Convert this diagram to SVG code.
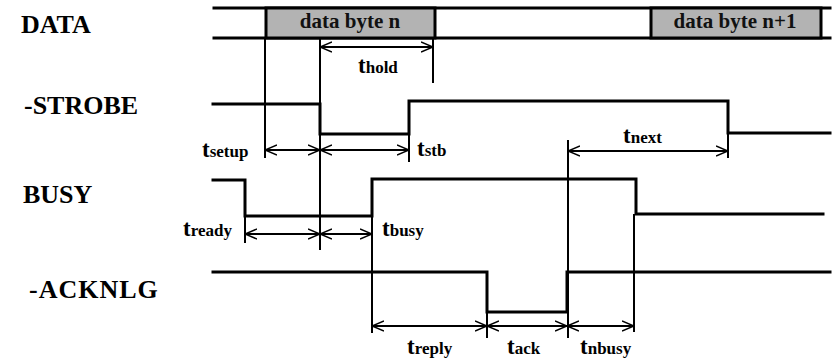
<svg xmlns="http://www.w3.org/2000/svg" width="834" height="359" viewBox="0 0 834 359">
<defs>
<style>
.sig{fill:none;stroke:#000;stroke-width:3;stroke-linejoin:miter;stroke-linecap:square}
.ref{fill:none;stroke:#000;stroke-width:2}
.arr{fill:none;stroke:#000;stroke-width:1.8;marker-start:url(#ah);marker-end:url(#ah)}
.box{fill:#b3b3b3;stroke:#000;stroke-width:3}
.lbl{font-family:"Liberation Serif","Times New Roman",serif;font-weight:bold;font-size:26px;fill:#000}
.dt{font-family:"Liberation Serif","Times New Roman",serif;font-weight:bold;font-size:21px;fill:#111;text-anchor:middle}
.t{font-family:"Liberation Serif","Times New Roman",serif;font-weight:bold;font-size:23px;fill:#000}
.s{font-size:17px}
</style>
<marker id="ah" viewBox="0 0 12 12" refX="12" refY="6" markerUnits="userSpaceOnUse" markerWidth="12" markerHeight="12" orient="auto-start-reverse">
<path d="M0,1 L12,6 L0,11" fill="none" stroke="#000" stroke-width="1.5"/>
</marker>
</defs>
<rect width="834" height="359" fill="#fff"/>

<g id="labels">
<text class="lbl" x="21" y="33">DATA</text>
<text class="lbl" x="24" y="114">-STROBE</text>
<text class="lbl" x="23" y="203">BUSY</text>
<text class="lbl" x="29" y="298" letter-spacing="1">-ACKNLG</text>
</g>

<g id="data">
<line class="sig" x1="214" y1="8" x2="830" y2="8"/>
<line class="sig" x1="214" y1="38" x2="830" y2="38"/>
<rect class="box" x="266" y="8" width="169" height="30"/>
<text class="dt" x="350" y="28">data byte n</text>
<rect class="box" x="651" y="8" width="170" height="30"/>
<text class="dt" x="735" y="28">data byte n+1</text>
</g>

<g id="strobe">
<path class="sig" d="M213,104 H320 V134 H409 V101 H728 V133 H830"/>
</g>

<g id="busy">
<path class="sig" d="M213,180 H245 V216 H372 V179 H636 V214 H823"/>
</g>

<g id="acknlg">
<path class="sig" d="M213,272 H487 V312 H567 V272 H830"/>
</g>

<g id="connectors">
<line class="ref" x1="265" y1="38" x2="265" y2="158"/>
<line class="ref" x1="320" y1="38" x2="320" y2="250"/>
<line class="ref" x1="433" y1="38" x2="433" y2="83"/>
<line class="ref" x1="409" y1="101" x2="409" y2="162"/>
<line class="ref" x1="568" y1="140" x2="568" y2="338"/>
<line class="ref" x1="728" y1="133" x2="728" y2="158"/>
<line class="ref" x1="245" y1="216" x2="245" y2="243"/>
<line class="ref" x1="372" y1="179" x2="372" y2="333"/>
<line class="ref" x1="487" y1="312" x2="487" y2="338"/>
<line class="ref" x1="634" y1="214" x2="634" y2="332"/>

<line class="arr" x1="320" y1="47" x2="433" y2="47"/>
<line class="arr" x1="265" y1="150" x2="320" y2="150"/>
<line class="arr" x1="320" y1="150" x2="409" y2="150"/>
<line class="arr" x1="568" y1="151" x2="728" y2="151"/>
<line class="arr" x1="245" y1="234" x2="320" y2="234"/>
<line class="arr" x1="320" y1="234" x2="372" y2="234"/>
<line class="arr" x1="372" y1="326" x2="487" y2="326"/>
<line class="arr" x1="487" y1="326" x2="567" y2="326"/>
<line class="arr" x1="567" y1="326" x2="634" y2="326"/>
</g>

<g id="timings">
<text class="t" x="358" y="73">t<tspan class="s">hold</tspan></text>
<text class="t" x="202" y="157">t<tspan class="s">setup</tspan></text>
<text class="t" x="417" y="156">t<tspan class="s">stb</tspan></text>
<text class="t" x="623" y="143">t<tspan class="s">next</tspan></text>
<text class="t" x="183" y="236">t<tspan class="s">ready</tspan></text>
<text class="t" x="382" y="236">t<tspan class="s">busy</tspan></text>
<text class="t" x="407" y="354">t<tspan class="s">reply</tspan></text>
<text class="t" x="507" y="354">t<tspan class="s">ack</tspan></text>
<text class="t" x="580" y="354">t<tspan class="s">nbusy</tspan></text>
</g>
</svg>
